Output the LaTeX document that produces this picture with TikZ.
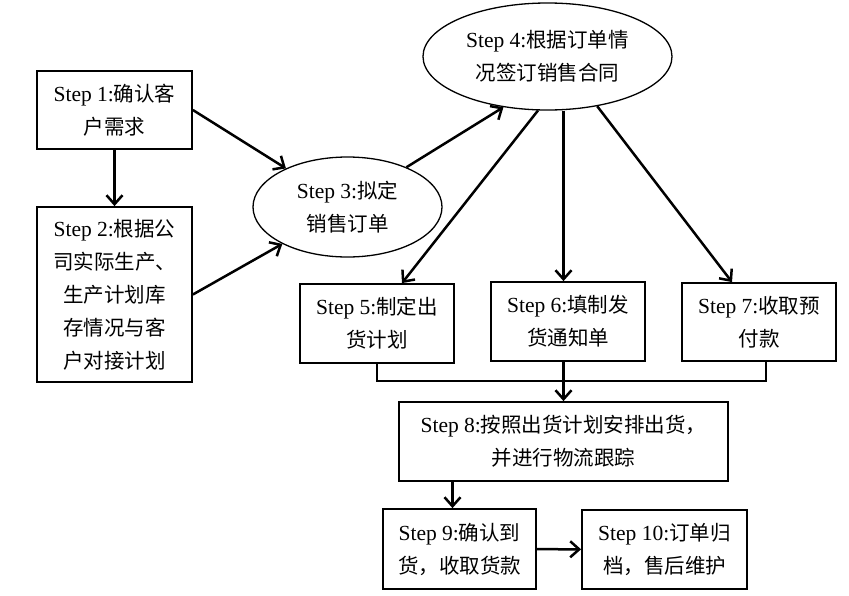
\documentclass[tikz,border=0pt]{standalone}
\usepackage{fontspec}
\setmainfont[Scale=1.05]{Liberation Serif}
\newfontfamily\cjk{Noto Sans CJK SC}
\newcommand{\zh}[1]{{\cjk #1}}
\usepackage{tikz}
\usetikzlibrary{arrows.meta}
\usetikzlibrary{shapes.geometric}

\begin{document}
\begin{tikzpicture} [x=1pt, y=-1pt,
  box/.style={draw, line width=1.8pt, inner sep=0, align=center},
  oval/.style={draw, ellipse, line width=1.3pt, inner sep=0, align=center},
  arr/.style={line width=2.5pt, -{Straight Barb[length=9pt,width=16pt]}},
  font=\fontsize{20.5}{33}\selectfont]
\useasboundingbox (0,0) rectangle (849,595);
\node[box, minimum width=155, minimum height=78] (s1) at (114.5,110) {Step 1:\zh{确认客}\\\zh{户需求}};
\node[box, minimum width=155, minimum height=175] (s2) at (114.5,294.5) {Step 2:\zh{根据公}\\\zh{司实际生产、}\\\zh{生产计划库}\\\zh{存情况与客}\\\zh{户对接计划}};
\node[oval, minimum width=189, minimum height=100] (s3) at (347.5,207) {Step 3:\zh{拟定}\\\zh{销售订单}};
\node[oval, minimum width=249, minimum height=107] (s4) at (547.5,56.5) {Step 4:\zh{根据订单情}\\\zh{况签订销售合同}};
\node[box, minimum width=154, minimum height=79] (s5) at (377,323.5) {Step 5:\zh{制定出}\\\zh{货计划}};
\node[box, minimum width=154, minimum height=79] (s6) at (568,321.5) {Step 6:\zh{填制发}\\\zh{货通知单}};
\node[box, minimum width=154, minimum height=78] (s7) at (759,322) {Step 7:\zh{收取预}\\\zh{付款}};
\node[box, minimum width=329, minimum height=79] (s8) at (563.5,441.5) {Step 8:\zh{按照出货计划安排出货，}\\\zh{并进行物流跟踪}};
\node[box, minimum width=153, minimum height=80] (s9) at (459.5,549) {Step 9:\zh{确认到}\\\zh{货，收取货款}};
\node[box, minimum width=165, minimum height=79] (s10) at (664.5,549.5) {Step 10:\zh{订单归}\\\zh{档，售后维护}};
\coordinate (t5) at ([xshift=25]s5.north);
\coordinate (t7) at ([xshift=-27]s7.north);
\coordinate (t9) at ([xshift=-7]s9.north);
\coordinate (b7) at ([xshift=7]s7.south);
\draw[arr] (s1) -- (s2);
\draw[arr] (s1.east) -- (s3);
\draw[arr] (s2.east) -- (s3);
\draw[arr] (s3.34) -- (s4.229);
\draw[arr] (s4.260) -- (t5);
\draw[arr] (s8.north |- s4.south) -- (s8.north |- s6.north);
\draw[arr] (s4.315) -- (t7);
\draw[line width=2.5pt] (s5.south) -- ++(0,17) -| (b7);
\draw[arr] (s8.north |- s6.south) -- (s8.north);
\draw[arr] (t9 |- s8.south) -- (t9);
\draw[arr] (s9) -- (s10);
\end{tikzpicture}
\end{document}
